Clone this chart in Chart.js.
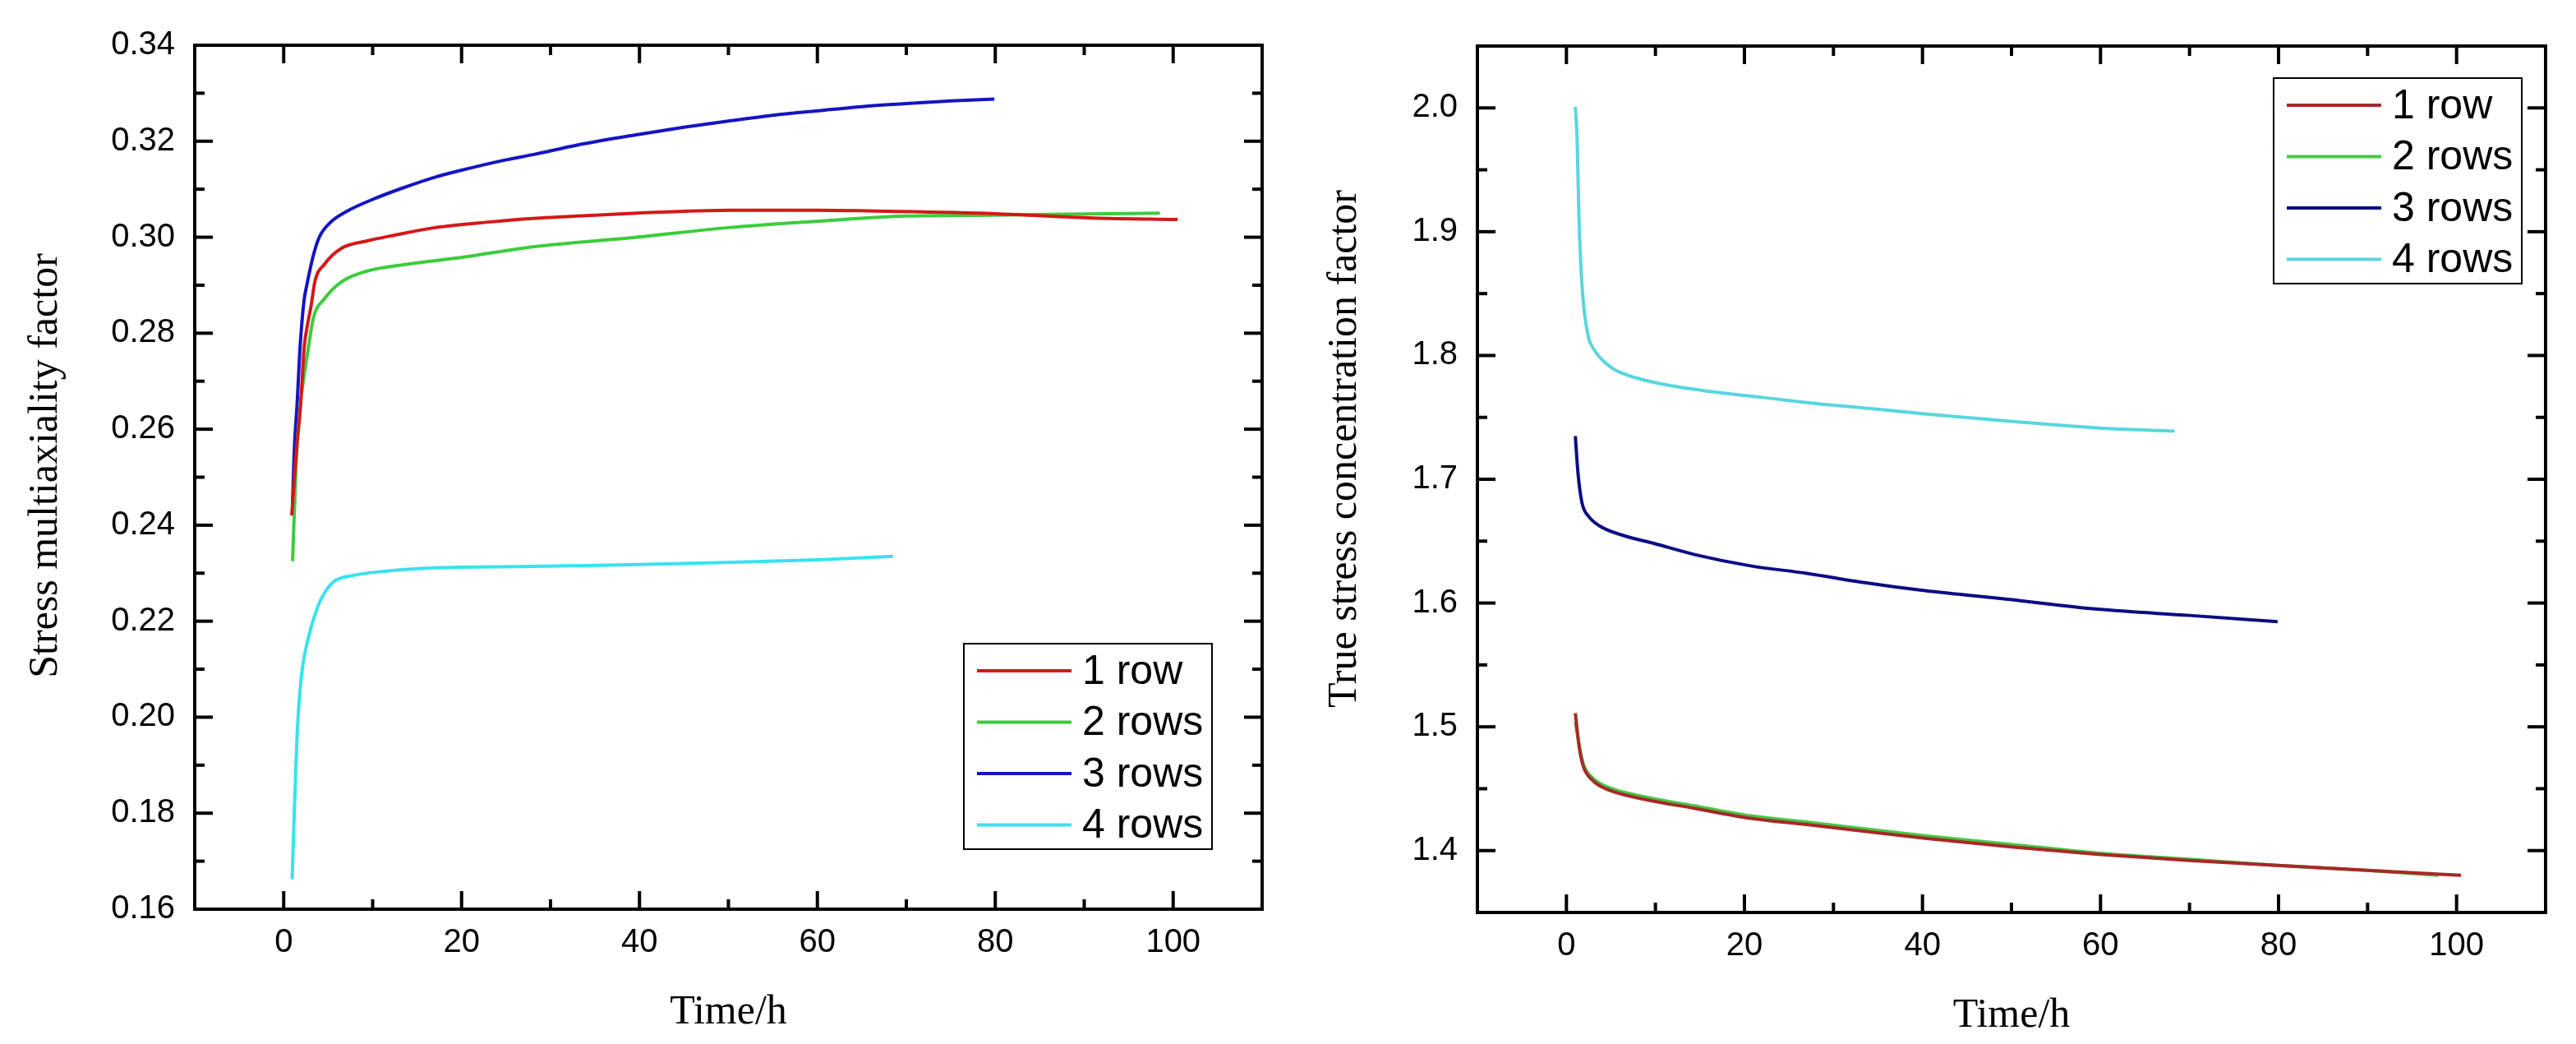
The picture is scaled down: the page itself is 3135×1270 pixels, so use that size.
<!DOCTYPE html>
<html>
<head>
<meta charset="utf-8">
<script src="https://cdn.jsdelivr.net/npm/chart.js@4.4.0/dist/chart.umd.min.js"></script>
<style>
html, body { margin: 0; padding: 0; background: #fff; }
#wrap { position: relative; width: 3135px; height: 1270px; }
#leftChart { position: absolute; left: 0; top: 0; }
#rightChart { position: absolute; left: 1568px; top: 0; }
</style>
</head>
<body>
<div id="wrap">
  <canvas id="leftChart" width="1568" height="1270"></canvas>
  <canvas id="rightChart" width="1567" height="1270"></canvas>
</div>
<script>
// ---- data ----
var seriesNames = ['1 row', '2 rows', '3 rows', '4 rows'];

// left: stress multiaxiality factor vs time
var smfTime1 = [0.9, 1.4, 1.9, 2.3, 2.7, 3.1, 3.5, 4.6, 6.5, 9.3, 12.4, 17, 23.3, 28, 34, 39.7, 50.2, 60, 68, 80, 91, 100.5];
var smfRow1  = [0.242, 0.255, 0.265, 0.277, 0.282, 0.2859, 0.2907, 0.2944, 0.2977, 0.2992, 0.3004, 0.302, 0.3032, 0.3039, 0.3045, 0.305, 0.3056, 0.3056, 0.3054, 0.3049, 0.304, 0.3037];
var smfTime2 = [1.0, 1.4, 1.85, 2.3, 2.8, 3.35, 4.5, 6.5, 9.3, 14, 20.1, 28, 39.7, 50, 60.6, 70, 80, 88, 98.5];
var smfRow2  = [0.2325, 0.2528, 0.265, 0.2712, 0.2773, 0.2833, 0.287, 0.2907, 0.2929, 0.2944, 0.2958, 0.298, 0.300, 0.302, 0.3034, 0.3044, 0.3046, 0.3048, 0.305];
var smfTime3 = [1.0, 1.2, 1.5, 1.85, 2.3, 2.6, 3.25, 4.0, 5.2, 7.1, 9.9, 13.3, 17, 20.1, 24.7, 28, 33, 39.5, 45, 50, 55, 60.4, 65, 69.7, 75, 79.9];
var smfRow3  = [0.2448, 0.256, 0.265, 0.2773, 0.287, 0.290, 0.2956, 0.300, 0.303, 0.3054, 0.3078, 0.3102, 0.3125, 0.314, 0.316, 0.3172, 0.3192, 0.3213, 0.3229, 0.3242, 0.3254, 0.3264, 0.3272, 0.3278, 0.3284, 0.3288];
var smfTime4 = [0.95, 1.1, 1.3, 1.5, 1.75, 2.05, 2.4, 2.9, 3.5, 4.2, 5.6, 7.7, 11.4, 17, 28, 34, 45, 53, 60, 68.5];
var smfRow4  = [0.1662, 0.175, 0.186, 0.196, 0.2035, 0.2095, 0.2135, 0.2175, 0.2213, 0.2246, 0.2282, 0.2295, 0.2304, 0.2311, 0.2314, 0.2316, 0.232, 0.2324, 0.2328, 0.2335];

// right: true stress concentration factor vs time
var tscTime1 = [1.0, 1.45, 1.9, 2.9, 4.4, 8.4, 14.5, 20.7, 27, 40.3, 50, 59.7, 70, 79.9, 90, 100.5];
var tscRow1  = [1.511, 1.483, 1.468, 1.457, 1.450, 1.442, 1.434, 1.426, 1.421, 1.410, 1.403, 1.397, 1.392, 1.388, 1.384, 1.380];
var tscTime2 = [1.0, 1.45, 1.9, 2.9, 4.4, 8.4, 14.5, 20.7, 27, 40.3, 50, 59.7, 70, 79.9, 90, 98];
var tscRow2  = [1.504, 1.485, 1.470, 1.459, 1.452, 1.444, 1.436, 1.428, 1.423, 1.412, 1.405, 1.398, 1.393, 1.388, 1.384, 1.380];
var tscTime3 = [1.0, 1.3, 1.75, 2.5, 3.8, 6.2, 9.9, 14.5, 20.7, 27, 33, 40.3, 49.6, 59.7, 70, 79.9];
var tscRow3  = [1.735, 1.705, 1.681, 1.670, 1.662, 1.655, 1.648, 1.639, 1.630, 1.624, 1.617, 1.610, 1.603, 1.595, 1.590, 1.585];
var tscTime4 = [1.0, 1.2, 1.4, 1.6, 1.9, 2.5, 3.0, 3.8, 5.3, 7.8, 11.4, 16, 22.2, 27, 32.9, 40, 49.6, 60.7, 68.3];
var tscRow4  = [2.001, 1.975, 1.914, 1.876, 1.843, 1.814, 1.806, 1.798, 1.789, 1.782, 1.776, 1.771, 1.766, 1.762, 1.758, 1.753, 1.747, 1.741, 1.739];

// ticks
var timeTicks = [0, 20, 40, 60, 80, 100];
var timeMinor = [10, 30, 50, 70, 90];
var smfTicks = [0.16, 0.18, 0.20, 0.22, 0.24, 0.26, 0.28, 0.30, 0.32, 0.34];
var smfMinor = [0.17, 0.19, 0.21, 0.23, 0.25, 0.27, 0.29, 0.31, 0.33];
var tscTicks = [1.4, 1.5, 1.6, 1.7, 1.8, 1.9, 2.0];
var tscMinor = [1.45, 1.55, 1.65, 1.75, 1.85, 1.95];

function pairs(xs, ys) {
  return xs.map(function (x, i) { return { x: x, y: ys[i] }; });
}

Chart.defaults.font.family = "'Liberation Sans', Arial, sans-serif";
Chart.defaults.color = '#000';

function strokeLine(ctx, x1, y1, x2, y2) {
  ctx.beginPath();
  ctx.moveTo(x1, y1);
  ctx.lineTo(x2, y2);
  ctx.stroke();
}

// Origin-style closed frame with inward ticks on all four sides
var frameTicks = {
  id: 'frameTicks',
  afterDatasetsDraw: function (chart, args, o) {
    var ctx = chart.ctx, a = chart.chartArea;
    var xs = chart.scales.x, ys = chart.scales.y;
    ctx.save();
    ctx.strokeStyle = '#000';
    ctx.lineWidth = 4;
    ctx.strokeRect(a.left, a.top, a.right - a.left, a.bottom - a.top);
    function xMarks(list, len) {
      list.forEach(function (v) {
        var p = xs.getPixelForValue(v);
        strokeLine(ctx, p, a.bottom, p, a.bottom - len);
        strokeLine(ctx, p, a.top, p, a.top + len);
      });
    }
    function yMarks(list, len) {
      list.forEach(function (v) {
        var p = ys.getPixelForValue(v);
        strokeLine(ctx, a.left, p, a.left + len, p);
        strokeLine(ctx, a.right, p, a.right - len, p);
      });
    }
    xMarks(o.xMajor, 22);
    xMarks(o.xMinor, 12);
    yMarks(o.yMajor, 22);
    yMarks(o.yMinor, 12);
    ctx.restore();
  }
};

// axis titles in serif, placed like the original
var axisTitles = {
  id: 'axisTitles',
  afterDraw: function (chart, args, o) {
    var ctx = chart.ctx, a = chart.chartArea;
    ctx.save();
    ctx.fillStyle = '#000';
    ctx.font = "50px 'Liberation Serif', 'Times New Roman', serif";
    ctx.textAlign = 'center';
    ctx.textBaseline = 'alphabetic';
    ctx.fillText(o.x, (a.left + a.right) / 2, a.bottom + 139);
    ctx.translate(a.left - o.yGap, (a.top + a.bottom) / 2 - o.yShift);
    ctx.rotate(-Math.PI / 2);
    ctx.fillText(o.y, 0, 0);
    ctx.restore();
  }
};

// boxed legend inside the plot
var boxLegend = {
  id: 'boxLegend',
  afterDraw: function (chart, args, o) {
    var ctx = chart.ctx, a = chart.chartArea;
    var bx = a.left + o.left, by = a.top + o.top;
    ctx.save();
    ctx.fillStyle = '#fff';
    ctx.fillRect(bx, by, 302, 250);
    ctx.strokeStyle = '#000';
    ctx.lineWidth = 2;
    ctx.strokeRect(bx, by, 302, 250);
    ctx.font = "50px 'Liberation Sans', Arial, sans-serif";
    ctx.textBaseline = 'middle';
    chart.data.datasets.forEach(function (ds, i) {
      var y = by + 33 + i * 62.5;
      ctx.strokeStyle = ds.borderColor;
      ctx.lineWidth = 4;
      strokeLine(ctx, bx + 16, y, bx + 131, y);
      ctx.fillStyle = '#000';
      ctx.fillText(ds.label, bx + 144, y + 2);
    });
    ctx.restore();
  }
};

function makeChart(id, sets, colors, yMin, yMax, yTicks, yMinor, yDigits, pad, yWidth, xHeight, titles, legendPos) {
  var datasets = sets.map(function (s, i) {
    return {
      label: seriesNames[i],
      data: s,
      borderColor: colors[i],
      backgroundColor: colors[i],
      borderWidth: 4,
      pointRadius: 0,
      fill: false,
      cubicInterpolationMode: 'monotone'
    };
  });
  return new Chart(document.getElementById(id), {
    type: 'line',
    data: { datasets: datasets },
    options: {
      responsive: false,
      animation: false,
      devicePixelRatio: 1,
      layout: { padding: pad },
      plugins: {
        legend: { display: false },
        tooltip: { enabled: false },
        frameTicks: { xMajor: timeTicks, xMinor: timeMinor, yMajor: yTicks, yMinor: yMinor },
        axisTitles: titles,
        boxLegend: legendPos
      },
      scales: {
        x: {
          type: 'linear',
          min: -10,
          max: 110,
          afterBuildTicks: function (s) { s.ticks = timeTicks.map(function (v) { return { value: v }; }); },
          afterFit: function (s) { s.height = xHeight; },
          grid: { display: false, drawTicks: false },
          border: { display: false },
          ticks: { font: { size: 40 }, padding: 17, maxRotation: 0, callback: function (v) { return String(v); } }
        },
        y: {
          type: 'linear',
          min: yMin,
          max: yMax,
          afterBuildTicks: function (s) { s.ticks = yTicks.map(function (v) { return { value: v }; }); },
          afterFit: function (s) { s.width = yWidth; },
          grid: { display: false, drawTicks: false },
          border: { display: false },
          ticks: { font: { size: 40 }, padding: 24, callback: function (v) { return Number(v).toFixed(yDigits); } }
        }
      }
    },
    plugins: [frameTicks, axisTitles, boxLegend]
  });
}

makeChart('leftChart',
  [pairs(smfTime1, smfRow1), pairs(smfTime2, smfRow2), pairs(smfTime3, smfRow3), pairs(smfTime4, smfRow4)],
  ['#d41818', '#3ccc3c', '#1414c4', '#38e2f0'],
  0.16, 0.34, smfTicks, smfMinor, 2,
  { top: 55, right: 32, bottom: 0, left: 0 }, 237, 164,
  { x: 'Time/h', y: 'Stress multiaxiality factor', yGap: 168, yShift: 14 },
  { left: 936, top: 728 });

makeChart('rightChart',
  [pairs(tscTime1, tscRow1), pairs(tscTime2, tscRow2), pairs(tscTime3, tscRow3), pairs(tscTime4, tscRow4)],
  ['#a82828', '#46c846', '#0c0c84', '#58d6de'],
  1.35, 2.05, tscTicks, tscMinor, 1,
  { top: 56, right: 37, bottom: 0, left: 0 }, 230, 160,
  { x: 'Time/h', y: 'True stress concentration factor', yGap: 148, yShift: 37 },
  { left: 969, top: 39 });
</script>
</body>
</html>
